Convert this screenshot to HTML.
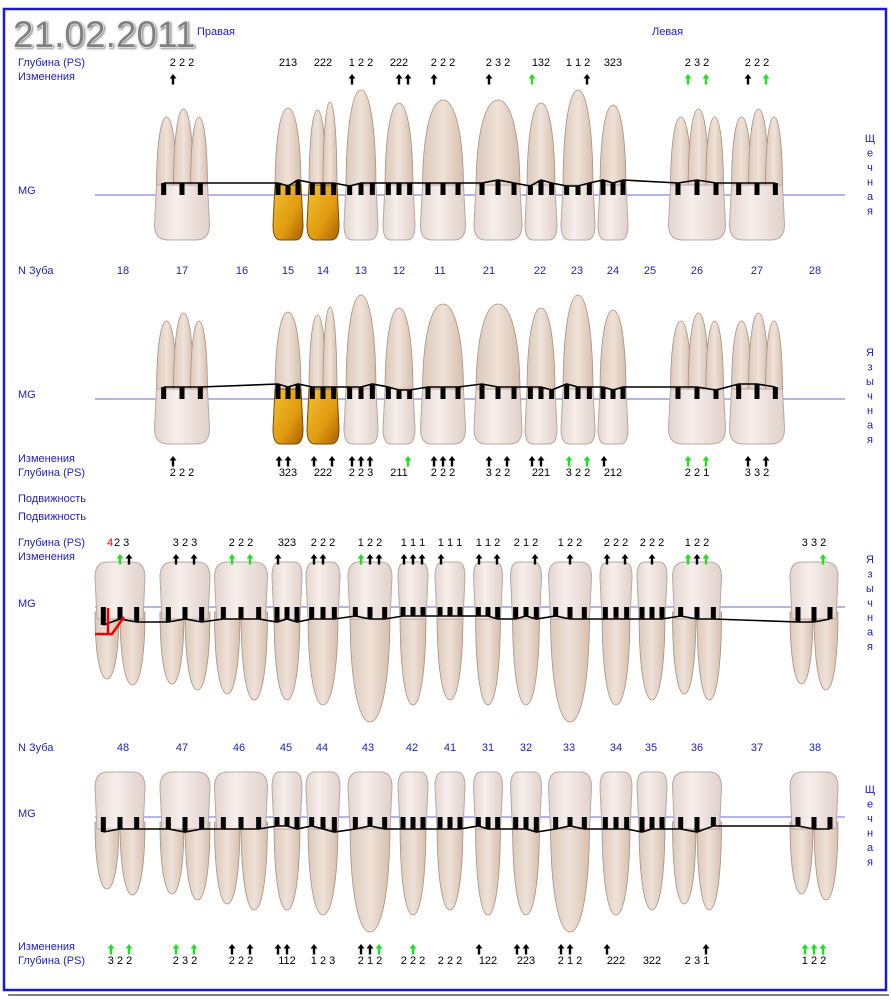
<!DOCTYPE html>
<html><head><meta charset="utf-8"><style>
html,body{margin:0;padding:0;background:#fff;width:891px;height:1000px;overflow:hidden}
svg{display:block}
</style></head><body>
<svg id="s" width="891" height="1000" xmlns="http://www.w3.org/2000/svg" font-family="Liberation Sans, Arial, sans-serif">
<defs>
<linearGradient id="cr" x1="0" y1="0" x2="1" y2="0"><stop offset="0" stop-color="#e3d5cf"/><stop offset=".4" stop-color="#f7efec"/><stop offset="1" stop-color="#e0d0c9"/></linearGradient>
<linearGradient id="rt" x1="0" y1="0" x2="1" y2="0"><stop offset="0" stop-color="#dcc8ba"/><stop offset=".5" stop-color="#efe2d8"/><stop offset="1" stop-color="#d6bfae"/></linearGradient>
<linearGradient id="gd" x1="0" y1="0" x2="1" y2="1"><stop offset="0" stop-color="#f4c030"/><stop offset=".6" stop-color="#e09a10"/><stop offset="1" stop-color="#a86000"/></linearGradient>
</defs>
<rect x="4" y="9" width="882" height="981" fill="none" stroke="#1a1acc" stroke-width="2.5"/>
<line x1="8" y1="995" x2="889" y2="995" stroke="#556" stroke-width="1.5"/>
<text x="13" y="47" font-size="37" fill="#808080" stroke="#fff" stroke-width="1.2" style="paint-order:stroke;filter:drop-shadow(1px 1px 1px #777)">21.02.2011</text>
<g id="g"></g>
</svg>
<script>
const g=document.getElementById('g');let h='';
const B='#1f1fbf';
function T(x,y,t,fs,col,anc){h+=`<text x="${x}" y="${y}" font-size="${fs||11}" fill="${col||B}" ${anc?'text-anchor="middle"':''}>${t}</text>`;}
T(197,35,'Правая');T(652,35,'Левая');
T(18,66,'Глубина (PS)');T(18,80,'Изменения');T(18,194,'MG');T(18,274,'N Зуба');
T(18,398,'MG');T(18,462,'Изменения');T(18,476,'Глубина (PS)');
T(18,502,'Подвижность');T(18,520,'Подвижность');
T(18,546,'Глубина (PS)');T(18,560,'Изменения');T(18,607,'MG');T(18,751,'N Зуба');
T(18,817,'MG');T(18,950,'Изменения');T(18,964,'Глубина (PS)');
function vert(y0,w){for(let i=0;i<w.length;i++)T(870,y0+i*14.5,w[i],11,B,1);}
vert(142,'Щечная');vert(356,'Язычная');vert(563,'Язычная');vert(793,'Щечная');
[[123,18],[182,17],[242,16],[288,15],[323,14],[361,13],[399,12],[440,11],[489,21],[540,22],[577,23],[613,24],[650,25],[697,26],[757,27],[815,28]].forEach(a=>T(a[0],274,a[1],11,B,1));
[[123,48],[182,47],[239,46],[286,45],[322,44],[368,43],[412,42],[450,41],[488,31],[526,32],[569,33],[616,34],[651,35],[697,36],[757,37],[815,38]].forEach(a=>T(a[0],751,a[1],11,B,1));
[195,399,607,817].forEach(y=>h+=`<line x1="95" y1="${y}" x2="845" y2="${y}" stroke="#6a6ad8" stroke-width="1"/>`);
function arrow(x,y,c){const col=c=='g'?'#22dd22':'#000';h+=`<path d="M${x},${y-6} l-3.5,4.5 h2.3 v6 h2.4 v-6 h2.3z" fill="${col}"/>`;}
function rootP(x0,x1,ys,ye){const xc=(x0+x1)/2,m=ys+(ye-ys)*.65,tw=(x1-x0)*.28;return `M${x0},${ys} C${x0},${m} ${xc-tw},${ye} ${xc},${ye} C${xc+tw},${ye} ${x1},${m} ${x1},${ys}Z`;}
const up1=[[182,55,112,3,'2 2 2','k..'],[288,30,108,1,'213','...',1],[323,32,105,2,'222','...',1],[361,34,90,1,'1 2 2','k..'],[399,32,103,1,'222','.dk'],[443,45,100,1,'2 2 2','k..'],[498,48,100,1,'2 3 2','k..'],[541,32,103,1,'132','g..'],[578,34,90,1,'1 1 2','..k'],[613,30,105,1,'323','...'],[697,57,112,3,'2 3 2','g.g'],[757,55,112,3,'2 2 2','k.g']];
const up2=[[182,55,316,3,'2 2 2','k..'],[288,30,312,1,'323','kk.',1],[323,32,310,2,'222','k.k',1],[361,34,295,1,'2 2 3','kkk'],[399,32,308,1,'211','..g'],[443,45,304,1,'2 2 2','kkk'],[498,48,304,1,'3 2 2','k.k'],[541,32,308,1,'221','kk.'],[578,34,295,1,'3 2 2','g.g'],[613,30,310,1,'212','k..'],[697,57,316,3,'2 2 1','g.g'],[757,55,316,3,'3 3 2','k.k']];
function upper(row,L,dy,ay){let pts=[];row.forEach(t=>{const[cx,w,rt,n,d,ar,gold]=t;const x0=cx-w/2;
 if(n==1)h+=`<path d="${rootP(x0+2,x0+w-2,L-5,rt)}" fill="url(#rt)" stroke="#a89080" stroke-width="0.8"/>`;
 else{const rw=(w-4)/n;for(let i=0;i<n;i++)h+=`<path d="${rootP(x0+2+i*rw,x0+2+(i+1)*rw+(i<n-1?3:0),L-5,rt+(i==1?-3:5))}" fill="url(#rt)" stroke="#a89080" stroke-width="0.8"/>`;}
 h+=`<path d="M${x0+2},${L-10} L${x0},${L+30} Q${x0},${L+45} ${x0+w/4},${L+45} L${x0+w*3/4},${L+45} Q${x0+w},${L+45} ${x0+w},${L+30} L${x0+w-2},${L-10}Z" fill="${gold?'url(#gd)':'url(#cr)'}" stroke="${gold?'#7a4a00':'#b8a8a0'}" stroke-width="1"/>`;
 const ds=d.replace(/ /g,'');const xs=[cx-w/3,cx,cx+w/3];
 for(let i=0;i<3;i++){const hh=6+(+ds[i])*3;h+=`<rect x="${xs[i]-2.5}" y="${L-hh}" width="5" height="${hh}" fill="#000"/>`;pts.push([xs[i],L-hh]);}
 T(cx,dy,d,11,'#000',1);
 for(let i=0;i<3;i++)if(ar[i]!='.')arrow(cx+(i-1)*9,ay,ar[i]=='g'?'g':'k');
});let s='';pts.forEach((p,i)=>s+=(i?' L':'M')+p[0]+','+p[1]);h+=`<path d="${s}" fill="none" stroke="#000" stroke-width="1.6"/>`;}
upper(up1,195,66,80);
upper(up2,399,476,462);
const lo1=[[120,50,685,2,'4 2 3','.gk'],[185,50,690,2,'3 2 3','k.k'],[241,53,700,2,'2 2 2','g.g'],[287,30,700,1,'323','k..'],[323,34,705,1,'2 2 2','kk.'],[370,44,722,1,'1 2 2','gkk'],[413,30,705,1,'1 1 1','kkk'],[450,30,700,1,'1 1 1','k..'],[488,29,705,1,'1 1 2','k.k'],[526,31,705,1,'2 1 2','..k'],[570,43,722,1,'1 2 2','.k.'],[616,32,705,1,'2 2 2','k.k'],[652,30,700,1,'2 2 2','.k.'],[697,49,700,2,'1 2 2','gkg'],[814,48,690,2,'3 3 2','..g']];
const lo2=lo1.map(t=>[t[0],t[1],t[2]+210,t[3]]);
const d2=['3 2 2','2 3 2','2 2 2','112','1 2 3','2 1 2','2 2 2','2 2 2','122','223','2 1 2','222','322','2 3 1','1 2 2'];
const a2=['g.g','g.g','k.k','kk.','k..','kkg','.g.','...','k..','kk.','kk.','k..','...','..k','ggg'];
function lower(row,L,dy,ay,ds2,as2){let pts=[];row.forEach((t,j)=>{const[cx,w,rb,n]=t;const d=ds2[j],ar=as2[j];const x0=cx-w/2;
 if(n==1)h+=`<path d="${rootP(x0+2,x0+w-2,L+5,rb)}" fill="url(#rt)" stroke="#a89080" stroke-width="0.8"/>`;
 else{const rw=(w-4)/n;for(let i=0;i<n;i++)h+=`<path d="${rootP(x0+2+i*rw-(i==0?2:0),x0+2+(i+1)*rw+(i==n-1?2:-1),L+5,rb-(i==0?6:0))}" fill="url(#rt)" stroke="#a89080" stroke-width="0.8"/>`;}
 h+=`<path d="M${x0+2},${L+12} L${x0},${L-30} Q${x0},${L-45} ${x0+w/4},${L-45} L${x0+w*3/4},${L-45} Q${x0+w},${L-45} ${x0+w},${L-30} L${x0+w-2},${L+12}Z" fill="url(#cr)" stroke="#b8a8a0" stroke-width="1"/>`;
 const ds=d.replace(/ /g,'');const xs=[cx-w/3,cx,cx+w/3];
 for(let i=0;i<3;i++){const hh=6+(+ds[i])*3;h+=`<rect x="${xs[i]-2.5}" y="${L}" width="5" height="${hh}" fill="#000"/>`;pts.push([xs[i],L+hh]);}
 if(d[0]=='4'){T(cx-6,dy,'2 3',11,'#000');T(cx-13,dy,'4',11,'#e00');}else T(cx,dy,d,11,'#000',1);
 for(let i=0;i<3;i++)if(ar[i]!='.')arrow(cx+(i-1)*9,ay,ar[i]);
});let s='';pts.forEach((p,i)=>s+=(i?' L':'M')+p[0]+','+p[1]);h+=`<path d="${s}" fill="none" stroke="#000" stroke-width="1.6"/>`;}
lower(lo1,607,546,560,lo1.map(t=>t[4]),lo1.map(t=>t[5]));
lower(lo2,817,964,950,d2,a2);
h+=`<path d="M108,608 V634 M95,634 H112 L124,617" stroke="#e00" stroke-width="2.5" fill="none"/>`;
g.innerHTML=h;
</script>
</body></html>
